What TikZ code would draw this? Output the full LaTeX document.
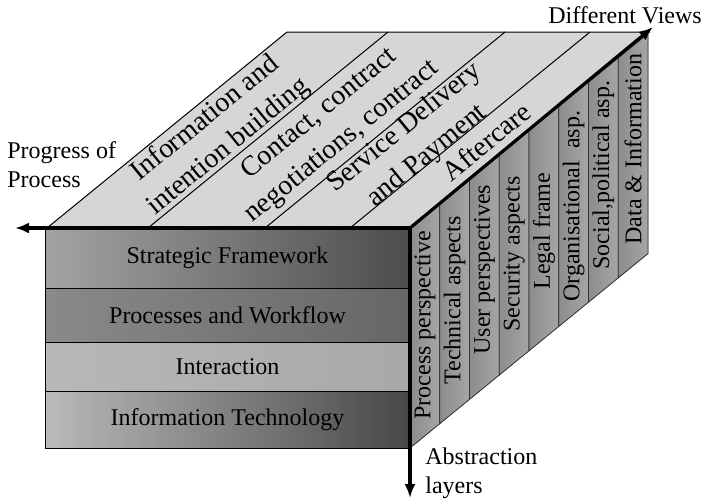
\documentclass[tikz,border=0pt]{standalone}
\usepackage{fontspec}
\setmainfont{Liberation Serif}
\usetikzlibrary{arrows.meta}

\begin{document}
\begin{tikzpicture}[x=.5pt,y=-.5pt,
  axis/.style={line width=1.6pt,-{Latex[length=7pt,width=5.5pt]}},
  layer/.style={draw,line width=.5pt,minimum width=182.5pt,inner sep=0pt,font=\fontsize{12}{14}\selectfont},
  phase/.style={rotate=39.2,align=center,inner sep=0pt,font=\fontsize{14}{18}\selectfont},
  view/.style={rotate=90,anchor=west,inner sep=0pt,font=\fontsize{12}{14}\selectfont},
  caption/.style={align=left,inner sep=0pt,font=\fontsize{12}{14.5}\selectfont}]
\useasboundingbox (0,0) rectangle (703,500);
\coordinate (0) at (410,228);

% top face: phases of the process
\fill[black!16] (47,228) -- ++(240,-196) -- (650,32) -- (0) -- cycle;
\draw[line width=.5pt] (47,228) -- ++(240,-196) -- (650,32);
\foreach \x in {148,265,350}
  \draw[line width=.5pt] (\x,228) -- ++(240,-196);
\foreach \x/\y/\t[count=\i] in {
  217/133/Information and\\intention building,
  331/128/{Contact, contract\\negotiations, contract},
  416/142/Service Delivery\\and Payment,
  489/139/Aftercare
}
\node at(\x,\y)[phase](phase\i){\t};

% right face: the views
\foreach \b/\t[count=\i from 0,evaluate=\i as \x using 410+29.75*\i,
               evaluate=\i as \y using 228-24.3*\i] in {
  420/Process perspective,
  385/Technical aspects,
  355/User perspectives,
  332/Security aspects,
  290/Legal frame,
  302/Organisational~~asp.,
  270/{Social,political asp.},
  245/Data \& Information
}
\filldraw[draw=black!80,line width=.4pt,left color=black!45,middle color=black!4,right color=black!35]
    (\x,\y) -- ++(29.75,-24.3) -- ++(0,220) -- ++(-29.75,24.3) -- cycle
  node at(\x+14.9,\b)[view](view\i){\t};

% front face: abstraction layers
\foreach \y/\h/\cl/\cr/\t[count=\i] in {
  258/30/black!36/black!70/Strategic Framework,
  315/27/black!46/black!60/Processes and Workflow,
  366.5/24.5/black!28/black!34/Interaction,
  419.5/28.5/black!27/black!72/Information Technology
}
\node at(227.5,\y)[layer,minimum height=\h pt,left color=\cl,right color=\cr](layer\i){\t};

% axes
\coordinate (progress) at (15,228);
\coordinate (abstraction) at (410,498);
\coordinate (views) at (653,27);
\draw[axis] (0) -- (progress);
\draw[axis] (0) -- (abstraction);
\draw[axis] (0) -- (views);
\node at(7,141.5)[caption,anchor=north west](progresslabel){Progress of\\Process};
\node at(548,23)[caption,anchor=base west](viewslabel){Different Views};
\node at(425,447)[caption,anchor=north west](abstractionlabel){Abstraction\\layers};
\end{tikzpicture}
\end{document}
